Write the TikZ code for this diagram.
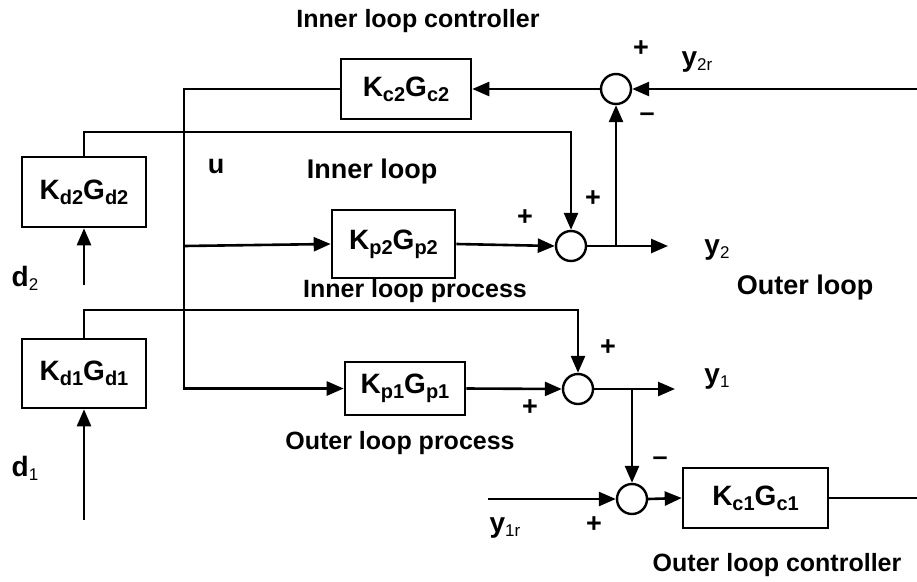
\documentclass[tikz,border=0pt]{standalone}
\usepackage{fontspec}
\setmainfont{Liberation Sans}
\usetikzlibrary{arrows.meta}
\newcommand\fsz[1]{\fontsize{#1}{#1}\selectfont}
\newcommand\sbx[1]{\raisebox{-5pt}{\fsz{20}#1}}
\newcommand\sby[1]{\raisebox{-4pt}{\fsz{17}\mdseries #1}}
\begin{document}
\begin{tikzpicture}[x=1pt,y=-1pt,
  blk/.style={draw, line width=2.6pt, inner sep=0pt, font=\fsz{28}\bfseries},
  sumc/.style={draw, circle, line width=2.4pt, minimum size=30pt, inner sep=0pt},
  ln/.style={line width=2.6pt},
  arr/.style={line width=2.6pt, -{Triangle[length=17pt,width=14pt]}},
  lbl/.style={font=\fsz{25}\bfseries, inner sep=0pt},
  big/.style={font=\fsz{27}\bfseries, inner sep=0pt},
  sig/.style={font=\fsz{28}\bfseries, inner sep=0pt},
  pm/.style={font=\fsz{27}\bfseries, inner sep=0pt}]
\useasboundingbox (0,0) rectangle (917,581);
% blocks
\node[blk, minimum width=130pt, minimum height=60pt] (kc2) at (406,89) {K\sbx{c2}G\sbx{c2}};
\node[blk, minimum width=123pt, minimum height=68pt] (kp2) at (393.5,244) {K\sbx{p2}G\sbx{p2}};
\node[blk, minimum width=124pt, minimum height=70pt] (kd2) at (84,192) {K\sbx{d2}G\sbx{d2}};
\node[blk, minimum width=124pt, minimum height=69pt] (kd1) at (84,373.5) {K\sbx{d1}G\sbx{d1}};
\node[blk, minimum width=120pt, minimum height=53pt] (kp1) at (405,388.5) {K\sbx{p1}G\sbx{p1}};
\node[blk, minimum width=145pt, minimum height=60pt] (kc1) at (755.5,498) {K\sbx{c1}G\sbx{c1}};
% summing junctions
\node[sumc] (s3) at (616,89) {};
\node[sumc] (s2) at (571,246) {};
\node[sumc] (s1) at (578,389) {};
\node[sumc] (s4) at (632,499) {};
% coordinates
\coordinate (inR) at (917,89);
\coordinate (ub) at (184,89);
\coordinate (uj) at (184,246);
\coordinate (d2c) at (571,132);
\coordinate (d1c) at (578,310);
\coordinate (d2in) at (84,285);
\coordinate (d1in) at (84,520);
\coordinate (j2) at (616,246);
\coordinate (y2e) at (668,246);
\coordinate (j1) at (632,389);
\coordinate (y1e) at (675,389);
\coordinate (y1rin) at (488,499);
\coordinate (outR) at (917,498);
% connectors
\draw[arr] (inR) -- (s3.east);
\draw[arr] (s3.west) -- (kc2.east);
\draw[arr] (kc2.west) -- (ub) |- (kp1.west);
\draw[arr] (uj) -- (kp2.west);
\draw[arr] (kd2.north) |- (d2c) -- (s2.north);
\draw[arr] (d2in) -- (kd2.south);
\draw[arr] (kp2.east) -- (s2.west);
\draw[arr] (s2.east) -- (y2e);
\draw[arr] (j2) -- (s3.south);
\draw[arr] (kd1.north) |- (d1c) -- (s1.north);
\draw[arr] (d1in) -- (kd1.south);
\draw[arr] (kp1.east) -- (s1.west);
\draw[arr] (s1.east) -- (y1e);
\draw[arr] (j1) -- (s4.north);
\draw[arr] (y1rin) -- (s4.west);
\draw[arr] (s4.east) -- (kc1.west);
\draw[ln] (kc1.east) -- (outR);
% labels
\node[lbl] (t1) at (418,21) {Inner loop controller};
\node[sig] (ly2r) at (697,62) {y\sby{2r}};
\node[pm] (p1) at (641,49) {+};
\node[pm] (m1) at (647,117) {–};
\node[big] (lu) at (216,166) {u};
\node[big] (t2) at (372,172) {Inner loop};
\node[pm] (p2) at (593,199) {+};
\node[pm] (p3) at (525,218) {+};
\node[sig] (ly2) at (717,250) {y\sby{2}};
\node[sig] (ld2) at (25,278) {d\sby{2}};
\node[lbl] (t3) at (415,291) {Inner loop process};
\node[big] (t4) at (805,288) {Outer loop};
\node[pm] (p4) at (608,348) {+};
\node[sig] (ly1) at (717,379) {y\sby{1}};
\node[pm] (p5) at (530,408) {+};
\node[lbl] (t5) at (400,443) {Outer loop process};
\node[sig] (ld1) at (25,468) {d\sby{1}};
\node[pm] (m2) at (660,461) {–};
\node[sig] (ly1r) at (505,528) {y\sby{1r}};
\node[pm] (p6) at (594,525) {+};
\node[lbl] (t6) at (777,565) {Outer loop controller};
\end{tikzpicture}
\end{document}
